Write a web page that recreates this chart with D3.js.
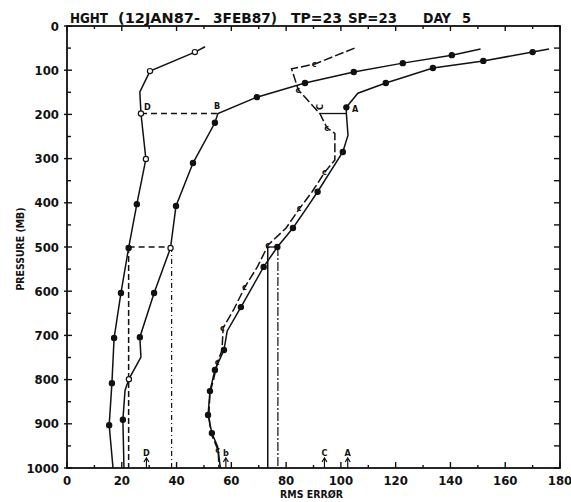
<!DOCTYPE html>
<html>
<head>
<meta charset="utf-8">
<script src="https://cdn.jsdelivr.net/npm/d3@7/dist/d3.min.js"></script>
<style>
  body { margin: 0; background: #fff; }
  text { font-family: "Liberation Sans Narrow", "DejaVu Sans Condensed", sans-serif; font-weight: bold; fill: #111; }
</style>
</head>
<body>
<div id="chart"></div>
<script>
// axes
const xTicks = [0, 20, 40, 60, 80, 100, 120, 140, 160, 180];
const yTicks = [0, 100, 200, 300, 400, 500, 600, 700, 800, 900, 1000];

// curve D (left)
const dPres = [47, 59, 102, 149, 198, 301, 403, 502, 604, 706, 808, 903, 1000];
const dVals = [50.4, 46.7, 30.3, 26.6, 27, 28.8, 25.5, 22.5, 19.7, 17.2, 16.4, 15.4, 16.8];
const dMark = [0, 2, 2, 0, 2, 2, 1, 1, 1, 1, 1, 1, 0];

// curve B
const bPres = [52, 66, 84, 104, 129, 161, 198, 219, 310, 407, 502, 604, 704, 749, 799, 824, 891, 1000];
const bVals = [151, 140.5, 122.6, 104.7, 86.9, 69.3, 55.1, 54, 46, 39.8, 37.8, 31.8, 26.6, 27, 22.6, 21.2, 20.4, 20.8];
const bMark = [0, 1, 1, 1, 1, 1, 0, 1, 1, 1, 2, 1, 1, 0, 2, 0, 1, 0];

// curve C
const cPres = [50, 86, 97, 145, 198, 231, 243, 303, 330, 375, 412, 457, 495, 545, 590, 640, 683, 733, 760, 800, 830, 880, 921, 960, 1000];
const cVals = [105, 90.5, 82, 84.5, 92.3, 95, 97.8, 97.8, 94.2, 89.5, 85, 80, 73.5, 69.5, 65, 61, 57, 56.6, 55, 53.5, 52.2, 51.8, 52.5, 55.2, 55.5];
const cMark = [0, 1, 0, 1, 0, 1, 0, 0, 1, 0, 1, 0, 1, 0, 1, 0, 1, 0, 1, 0, 0, 1, 0, 1, 0];

// curve A
const aPres = [52, 59, 79, 95, 129, 152, 184, 198, 247, 285, 375, 412, 457, 500, 545, 636, 690, 733, 778, 826, 880, 921, 952, 1000];
const aVals = [176, 170, 152, 133.6, 116.4, 106.2, 102, 102, 102.6, 100.7, 91.5, 87.5, 82.5, 76.8, 71.8, 63.5, 58.5, 57.3, 54, 52.2, 51.5, 52.9, 55, 56];
const aMark = [0, 1, 1, 1, 1, 0, 1, 0, 0, 1, 1, 0, 1, 1, 1, 1, 0, 1, 1, 1, 1, 1, 0, 0];

// reference levels and values joining the pairs
const refLevels = [198, 500];
const refD = [27, 22.5];
const refB = [55.1, 38.2];
const refC = [92.3, 73.3];
const refA = [102, 77];

// arrows on the bottom axis
const meanNames = ["D", "b", "C", "A"];
const meanVals = [29, 58, 94, 102.5];

let width = 571;
let height = 502;

let svg = d3.select("#chart")
    .append("svg")
    .attr("width", width)
    .attr("height", height);

let x = d3.scaleLinear().domain([0, 180]).range([67, 560]);
let y = d3.scaleLinear().domain([0, 1000]).range([26, 468]);

// frame
svg.append("rect")
    .attr("x", x(0)).attr("y", y(0))
    .attr("width", x(180) - x(0)).attr("height", y(1000) - y(0))
    .attr("fill", "none").attr("stroke", "#111").attr("stroke-width", 1.8);

// inward ticks
const minorX = d3.range(0, 181, 10);
const minorY = d3.range(0, 1001, 50);
let ticks = svg.append("g").attr("stroke", "#111").attr("stroke-width", 1.4);
minorX.forEach((v) => {
    let big = v % 20 === 0;
    ticks.append("line").attr("x1", x(v)).attr("x2", x(v))
        .attr("y1", y(1000)).attr("y2", y(1000) - (big ? 6 : 3));
    ticks.append("line").attr("x1", x(v)).attr("x2", x(v))
        .attr("y1", y(0)).attr("y2", y(0) + (big ? 5 : 3));
});
minorY.forEach((v) => {
    let big = v % 100 === 0;
    ticks.append("line").attr("y1", y(v)).attr("y2", y(v))
        .attr("x1", x(0) - (big ? 3 : 0)).attr("x2", x(0) + (big ? 5 : 4));
    ticks.append("line").attr("y1", y(v)).attr("y2", y(v))
        .attr("x1", x(180)).attr("x2", x(180) - 6);
});

// tick labels
svg.append("g").selectAll("text")
    .data(xTicks).enter().append("text")
    .attr("x", (d) => x(d)).attr("y", 485)
    .attr("text-anchor", "middle").attr("font-size", 13)
    .text((d) => d);
svg.append("g").selectAll("text")
    .data(yTicks).enter().append("text")
    .attr("x", 59).attr("y", (d) => y(d) + 4.5)
    .attr("text-anchor", "end").attr("font-size", 13)
    .text((d) => d);

// titles
const titleParts = [["HGHT", 70, 38], ["(12JAN87-", 118, 82], ["3FEB87)", 213, 64],
    ["TP=23", 291, 51], ["SP=23", 348, 49], ["DAY", 423, 28], ["5", 462, 9]];
svg.append("g").selectAll("text")
    .data(titleParts).enter().append("text")
    .attr("x", (d) => d[1]).attr("y", 23)
    .attr("font-size", 14).attr("font-weight", "normal")
    .attr("textLength", (d) => d[2]).attr("lengthAdjust", "spacingAndGlyphs")
    .text((d) => d[0]);

svg.append("text")
    .attr("transform", "translate(24,249) rotate(-90)")
    .attr("text-anchor", "middle").attr("font-size", 10).attr("font-weight", "normal")
    .attr("textLength", 83).attr("lengthAdjust", "spacingAndGlyphs")
    .text("PRESSURE (MB)");
svg.append("text")
    .attr("x", 280).attr("y", 498)
    .attr("font-size", 11).attr("font-weight", "normal")
    .attr("textLength", 63).attr("lengthAdjust", "spacingAndGlyphs")
    .text("RMS ERRØR");

// connectors at reference levels
const pairs = [
    { a: refD, b: refB, dash: "6,4", vdash: "6,3", vdash2: "5,3,1,3" },
    { a: refC, b: refA, dash: null, vdash: null, vdash2: "9,2,2,2" },
];
let refs = svg.append("g").attr("fill", "none").attr("stroke", "#111");
pairs.forEach((p) => {
    refLevels.forEach((lev, i) => {
        refs.append("line")
            .attr("x1", x(p.a[i])).attr("x2", x(p.b[i]))
            .attr("y1", y(lev)).attr("y2", y(lev))
            .attr("stroke-width", 1.3)
            .attr("stroke-dasharray", p.dash);
    });
    // verticals from 500 down to the axis
    refs.append("line")
        .attr("x1", x(p.a[1])).attr("x2", x(p.a[1]))
        .attr("y1", y(500)).attr("y2", y(1000))
        .attr("stroke-width", 1.5).attr("stroke-dasharray", p.vdash);
    refs.append("line")
        .attr("x1", x(p.b[1])).attr("x2", x(p.b[1]))
        .attr("y1", y(500)).attr("y2", y(1000))
        .attr("stroke-width", 1.2).attr("stroke-dasharray", p.vdash2);
});

// curves
const curves = [
    { pres: dPres, vals: dVals, mark: dMark, dash: null },
    { pres: bPres, vals: bVals, mark: bMark, dash: null },
    { pres: cPres, vals: cVals, mark: cMark, dash: "9,3" },
    { pres: aPres, vals: aVals, mark: aMark, dash: null },
];
let line = d3.line().x((d) => x(d[1])).y((d) => y(d[0]));

curves.forEach((c, k) => {
    let pts = c.pres.map((p, i) => [p, c.vals[i], c.mark[i]]);
    let g = svg.append("g");
    g.append("path")
        .datum(pts)
        .attr("fill", "none")
        .attr("stroke", "#111")
        .attr("stroke-width", 1.5)
        .attr("stroke-dasharray", c.dash)
        .attr("d", line);
    if (k === 2) {
        // C markers look like small "c" letters
        g.selectAll("text").data(pts.filter((d) => d[2] > 0)).enter()
            .append("text")
            .attr("x", (d) => x(d[1]) - 3).attr("y", (d) => y(d[0]) + 3)
            .attr("font-size", 9).text("c");
    } else {
        g.selectAll("circle").data(pts.filter((d) => d[2] > 0)).enter()
            .append("circle")
            .attr("cx", (d) => x(d[1])).attr("cy", (d) => y(d[0]))
            .attr("r", 2.6)
            .attr("fill", (d) => (d[2] === 2 ? "#fff" : "#111"))
            .attr("stroke", "#111").attr("stroke-width", 1.2);
    }
});

// curve letters near 200 mb
svg.append("text").attr("x", 144).attr("y", 110).attr("font-size", 9).text("D");
svg.append("text").attr("x", 214).attr("y", 109).attr("font-size", 9).text("B");
svg.append("text").attr("transform", "translate(323,107) rotate(-90)")
    .attr("text-anchor", "middle").attr("font-size", 9).text("C");
svg.append("text").attr("x", 352).attr("y", 112).attr("font-size", 9).text("A");

// arrows at the bottom
let arrows = svg.append("g");
meanVals.forEach((v, i) => {
    arrows.append("line")
        .attr("x1", x(v)).attr("x2", x(v))
        .attr("y1", y(1000)).attr("y2", y(1000) - 9)
        .attr("stroke", "#111").attr("stroke-width", 1.2);
    arrows.append("path")
        .attr("d", `M${x(v) - 2.5},${y(1000) - 6} L${x(v)},${y(1000) - 10} L${x(v) + 2.5},${y(1000) - 6}`)
        .attr("fill", "none").attr("stroke", "#111").attr("stroke-width", 1.2);
    arrows.append("text")
        .attr("x", x(v)).attr("y", y(1000) - 12)
        .attr("text-anchor", "middle").attr("font-size", 9)
        .text(meanNames[i]);
});
</script>
</body>
</html>
